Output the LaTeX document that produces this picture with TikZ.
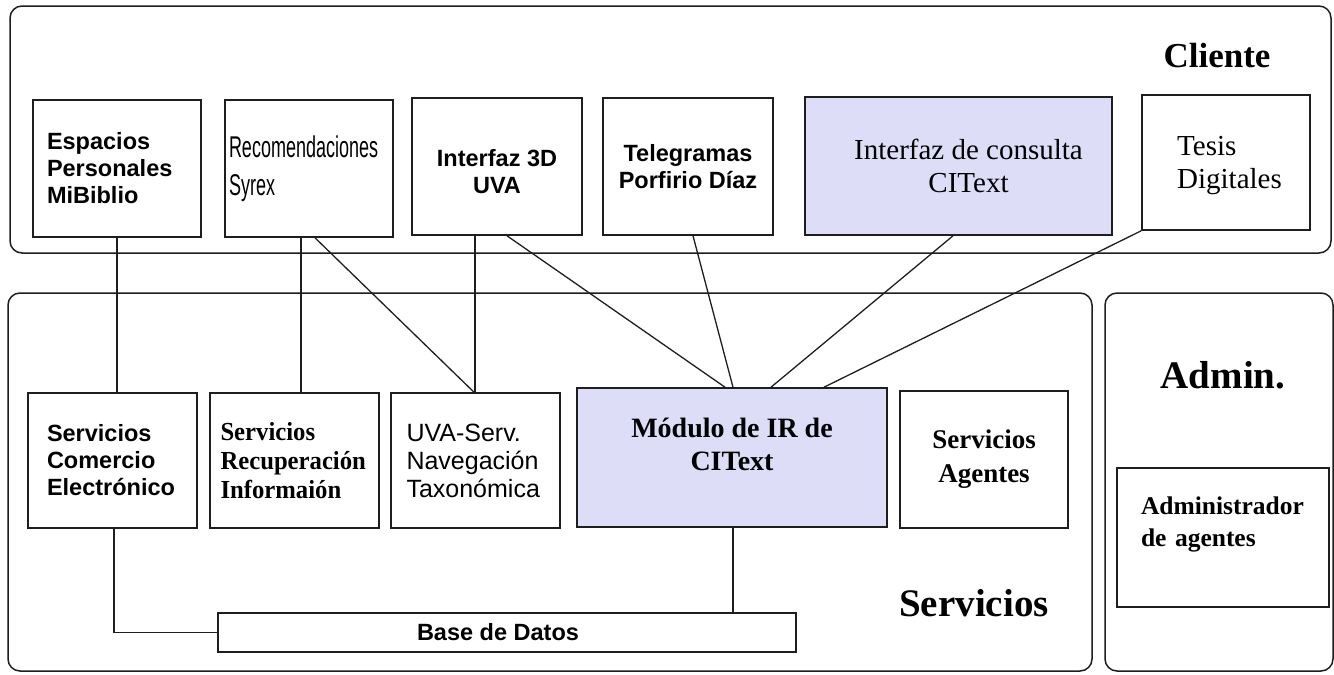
\documentclass[tikz,border=0pt]{standalone}
\usepackage{fontspec}
\setmainfont{Liberation Serif}
\setsansfont{Liberation Sans}
\newfontfamily\narrowsans[FakeStretch=0.6]{Liberation Sans}
\newfontfamily\narrowserif[FakeStretch=0.95]{Liberation Serif}
\definecolor{lav}{RGB}{221,221,247}
\definecolor{ink}{RGB}{30,30,30}
\tikzset{
  frame/.style={draw=ink, line width=1.5pt, rounded corners=12pt, inner sep=0pt},
  box/.style={draw=ink, line width=1.6pt, fill=white, inner sep=0pt, text=black},
  hbox/.style={box, fill=lav},
  conn/.style={draw=ink, line width=1.3pt},
  sansb/.style={font=\sffamily\bfseries\fontsize{23.5}{27}\selectfont},
  sansr/.style={font=\sffamily\fontsize{25}{28}\selectfont},
  narrow/.style={font=\narrowsans\fontsize{30}{38}\selectfont},
  serifr/.style={font=\rmfamily\fontsize{29}{33}\selectfont},
  serifb/.style={font=\rmfamily\bfseries\fontsize{28}{33}\selectfont},
  title/.style={anchor=base, inner sep=0pt},
}
\begin{document}
\begin{tikzpicture}[x=1pt,y=-1pt]
\useasboundingbox (0,0) rectangle (1334,675);
% containers
\node[frame, minimum width=1321pt, minimum height=247pt] (fcliente) at (670.5,129.5) {};
\node[frame, minimum width=1084pt, minimum height=378pt] (fserv) at (550,482) {};
\node[frame, minimum width=228pt, minimum height=378pt] (fadmin) at (1219,482) {};
% titles
\node[title, font=\rmfamily\bfseries\fontsize{35}{38}\selectfont] (tcliente) at (1217,67) {Cliente};
\node[title, font=\rmfamily\bfseries\fontsize{39}{42}\selectfont] (tserv) at (974,616) {Servicios};
\node[title, font=\rmfamily\bfseries\fontsize{39}{42}\selectfont] (tadmin) at (1223,388) {Admin.};
% client boxes
\node[box, sansb, minimum width=168pt, minimum height=137pt, text width=140pt, align=left] (espacios) at (117,168.5) {Espacios\\Personales\\MiBiblio};
\node[box, narrow, minimum width=168pt, minimum height=137pt, text width=160pt, align=left] (recom) at (309,168.5) {Recomendaciones\\Syrex};
\node[box, sansb, minimum width=170pt, minimum height=137pt, align=center] (interfaz) at (497,166.5) {\rule{0pt}{28pt}Interfaz 3D\\UVA};
\node[box, sansb, minimum width=170pt, minimum height=137pt, align=center] (telegramas) at (688,166.5) {Telegramas\\Porfirio Díaz};
\node[hbox, serifr, minimum width=307pt, minimum height=138pt, align=center] (consulta) at (958.5,166) {\hspace*{20pt}Interfaz de consulta\\\hspace*{20pt}CIText};
\node[box, serifr, minimum width=168pt, minimum height=135pt, align=left] (tesis) at (1226,162.5) {\hspace*{7pt}\rule{0pt}{26pt}Tesis\\\hspace*{7pt}Digitales};
% service boxes
\node[box, sansb, minimum width=169pt, minimum height=135pt, text width=131pt, align=left] (comercio) at (112.5,460.5) {Servicios\\Comercio\\Electrónico};
\node[box, font=\narrowserif\bfseries\fontsize{26}{29}\selectfont, minimum width=169pt, minimum height=135pt, text width=148pt, align=left] (recuperacion) at (294.5,460.5) {Servicios\\Recuperación\\Informaión};
\node[box, sansr, minimum width=169pt, minimum height=135pt, text width=138pt, align=left] (uvaserv) at (475.5,460.5) {UVA-Serv.\\Navegación\\Taxonómica};
\node[hbox, serifb, minimum width=310pt, minimum height=139pt, align=center] (modulo) at (732,457.5) {Módulo de IR de\\CIText\rule[-27pt]{0pt}{27pt}};
\node[box, font=\rmfamily\bfseries\fontsize{27}{34}\selectfont, minimum width=168pt, minimum height=137pt, align=center] (agentes) at (984,459.5) {Servicios\\Agentes};
\node[box, sansb, minimum width=578pt, minimum height=39pt] (base) at (507,632.5) {\hspace*{-18pt}Base de Datos};
\node[box, font=\rmfamily\bfseries\fontsize{25.5}{32}\selectfont, minimum width=212pt, minimum height=139pt, text width=164pt, align=left] (admin) at (1223,537.5) {Administrador\\de agentes\rule[-31pt]{0pt}{31pt}};
% connectors
\draw[conn] (espacios.south) -- (espacios.south |- comercio.north);
\draw[conn] ([xshift=-8pt]recom.south) -- ([xshift=-8pt]recom.south |- recuperacion.north);
\draw[conn] ([xshift=6pt]recom.south) -- ([xshift=-1.5pt]uvaserv.north);
\draw[conn] ([xshift=-22pt]interfaz.south) -- ([xshift=-22pt]interfaz.south |- uvaserv.north);
\draw[conn] ([xshift=10pt]interfaz.south) -- ([xshift=-7pt]modulo.north);
\draw[conn] ([xshift=5pt]telegramas.south) -- ([xshift=1pt]modulo.north);
\draw[conn] ([xshift=-5.5pt]consulta.south) -- ([xshift=39pt]modulo.north);
\draw[conn] (tesis.south west) -- ([xshift=92pt]modulo.north);
\draw[conn] ([xshift=1pt]modulo.south) -- ([xshift=1pt]modulo.south |- base.north);
\draw[conn] ([xshift=1.5pt]comercio.south) |- (base.west);
\end{tikzpicture}
\end{document}
